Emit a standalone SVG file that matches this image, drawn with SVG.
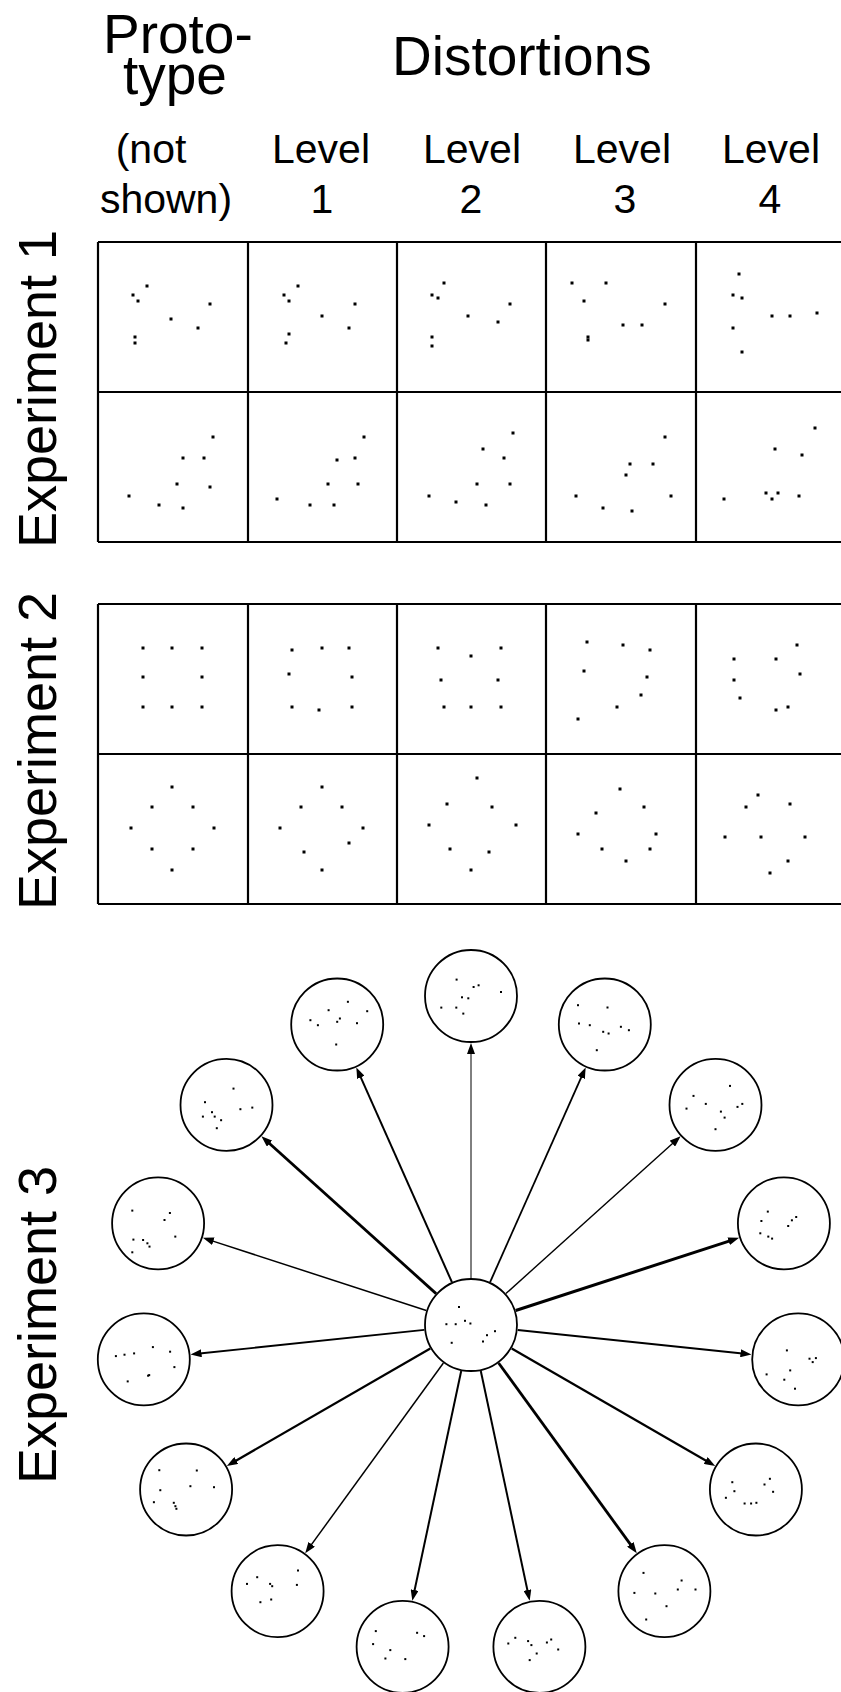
<svg xmlns="http://www.w3.org/2000/svg" xmlns:xlink="http://www.w3.org/1999/xlink" width="841" height="1692" viewBox="0 0 841 1692">
<style>
text{font-family:"Liberation Sans",Arial,sans-serif;fill:#000}
.h{font-size:55px}
.l{font-size:41px;text-anchor:middle}
.e{font-size:54px;text-anchor:middle}
.grid{fill:none;stroke:#000;stroke-width:2.2}
.node circle{fill:#fff;stroke:#000;stroke-width:1.8}
.conn line{stroke:#000;marker-end:url(#ah)}
</style>
<defs>
<rect id="s" x="-1.5" y="-1.5" width="3" height="3" fill="#000"/>
<rect id="t" x="-1" y="-1" width="2" height="2" fill="#000"/>
<marker id="ah" markerUnits="userSpaceOnUse" markerWidth="11" markerHeight="8" refX="2" refY="4" orient="auto"><path d="M0,0 L11,4 L0,8 z" fill="#000"/></marker>
</defs>
<rect width="841" height="1692" fill="#fff"/>
<g id="header">
<text class="h"><tspan x="103" y="53">Proto-</tspan><tspan x="123" y="94">type</tspan></text>
<text class="h" x="392" y="75">Distortions</text>
<text class="l" x="151" y="163">(not</text>
<text class="l" x="166" y="213">shown)</text>
<text class="l" x="321" y="163">Level</text>
<text class="l" x="322" y="213">1</text>
<text class="l" x="472" y="163">Level</text>
<text class="l" x="471" y="213">2</text>
<text class="l" x="622" y="163">Level</text>
<text class="l" x="625" y="213">3</text>
<text class="l" x="771" y="163">Level</text>
<text class="l" x="770" y="213">4</text>
<text class="e" transform="translate(56,389) rotate(-90)">Experiment 1</text>
<text class="e" transform="translate(56,751) rotate(-90)">Experiment 2</text>
<text class="e" transform="translate(56,1325) rotate(-90)">Experiment 3</text>
</g>
<g id="grid1" class="grid">
<path d="M98,242H846M98,392H846M98,542H846M98,242V542M248,242V542M397,242V542M546,242V542M696,242V542"/>
</g>
<g id="grid2" class="grid">
<path d="M98,604H846M98,754H846M98,904H846M98,604V904M248,604V904M397,604V904M546,604V904M696,604V904"/>
</g>
<g id="e1-r1-c1" transform="translate(98,242)"><use href="#s" x="49" y="44"/><use href="#s" x="35" y="53"/><use href="#s" x="40" y="59"/><use href="#s" x="112" y="62"/><use href="#s" x="73" y="77"/><use href="#s" x="100" y="86"/><use href="#s" x="37" y="95"/><use href="#s" x="37" y="101"/></g>
<g id="e1-r1-c2" transform="translate(248,242)"><use href="#s" x="50" y="44"/><use href="#s" x="36" y="53"/><use href="#s" x="41" y="59"/><use href="#s" x="107" y="62"/><use href="#s" x="74" y="74"/><use href="#s" x="101" y="86"/><use href="#s" x="41" y="92"/><use href="#s" x="38" y="101"/></g>
<g id="e1-r1-c3" transform="translate(397,242)"><use href="#s" x="47" y="41"/><use href="#s" x="35" y="53"/><use href="#s" x="41" y="56"/><use href="#s" x="113" y="62"/><use href="#s" x="71" y="74"/><use href="#s" x="101" y="80"/><use href="#s" x="35" y="95"/><use href="#s" x="35" y="104"/></g>
<g id="e1-r1-c4" transform="translate(546,242)"><use href="#s" x="26" y="41"/><use href="#s" x="60" y="41"/><use href="#s" x="38" y="59"/><use href="#s" x="119" y="62"/><use href="#s" x="77" y="83"/><use href="#s" x="96" y="83"/><use href="#s" x="42" y="95"/><use href="#s" x="42" y="98"/></g>
<g id="e1-r1-c5" transform="translate(696,242)"><use href="#s" x="43" y="32"/><use href="#s" x="37" y="53"/><use href="#s" x="46" y="56"/><use href="#s" x="76" y="74"/><use href="#s" x="94" y="74"/><use href="#s" x="121" y="71"/><use href="#s" x="37" y="86"/><use href="#s" x="46" y="110"/></g>
<g id="e1-r2-c1" transform="translate(98,392)"><use href="#s" x="115" y="45"/><use href="#s" x="85" y="66"/><use href="#s" x="106" y="66"/><use href="#s" x="79" y="92"/><use href="#s" x="112" y="95"/><use href="#s" x="31" y="104"/><use href="#s" x="61" y="113"/><use href="#s" x="85" y="116"/></g>
<g id="e1-r2-c2" transform="translate(248,392)"><use href="#s" x="116" y="45"/><use href="#s" x="89" y="68"/><use href="#s" x="107" y="66"/><use href="#s" x="80" y="92"/><use href="#s" x="110" y="92"/><use href="#s" x="29" y="107"/><use href="#s" x="62" y="113"/><use href="#s" x="86" y="113"/></g>
<g id="e1-r2-c3" transform="translate(397,392)"><use href="#s" x="116" y="41"/><use href="#s" x="86" y="57"/><use href="#s" x="107" y="66"/><use href="#s" x="80" y="92"/><use href="#s" x="113" y="92"/><use href="#s" x="32" y="104"/><use href="#s" x="59" y="110"/><use href="#s" x="89" y="113"/></g>
<g id="e1-r2-c4" transform="translate(546,392)"><use href="#s" x="119" y="45"/><use href="#s" x="84" y="72"/><use href="#s" x="107" y="72"/><use href="#s" x="80" y="83"/><use href="#s" x="30" y="104"/><use href="#s" x="125" y="104"/><use href="#s" x="57" y="116"/><use href="#s" x="86" y="119"/></g>
<g id="e1-r2-c5" transform="translate(696,392)"><use href="#s" x="119" y="36"/><use href="#s" x="79" y="57"/><use href="#s" x="106" y="63"/><use href="#s" x="70" y="101"/><use href="#s" x="82" y="101"/><use href="#s" x="76" y="107"/><use href="#s" x="103" y="104"/><use href="#s" x="28" y="107"/></g>
<g id="e2-r1-c1" transform="translate(98,604)"><use href="#s" x="45" y="44"/><use href="#s" x="74" y="44"/><use href="#s" x="104" y="44"/><use href="#s" x="45" y="73"/><use href="#s" x="104" y="73"/><use href="#s" x="45" y="103"/><use href="#s" x="74" y="103"/><use href="#s" x="104" y="103"/></g>
<g id="e2-r1-c2" transform="translate(248,604)"><use href="#s" x="44" y="46"/><use href="#s" x="74" y="44"/><use href="#s" x="101" y="44"/><use href="#s" x="41" y="70"/><use href="#s" x="104" y="73"/><use href="#s" x="44" y="103"/><use href="#s" x="71" y="106"/><use href="#s" x="104" y="103"/></g>
<g id="e2-r1-c3" transform="translate(397,604)"><use href="#s" x="41" y="44"/><use href="#s" x="104" y="44"/><use href="#s" x="74" y="52"/><use href="#s" x="44" y="76"/><use href="#s" x="101" y="76"/><use href="#s" x="47" y="103"/><use href="#s" x="74" y="103"/><use href="#s" x="104" y="103"/></g>
<g id="e2-r1-c4" transform="translate(546,604)"><use href="#s" x="41" y="38"/><use href="#s" x="77" y="41"/><use href="#s" x="104" y="46"/><use href="#s" x="38" y="67"/><use href="#s" x="101" y="73"/><use href="#s" x="95" y="91"/><use href="#s" x="71" y="103"/><use href="#s" x="32" y="115"/></g>
<g id="e2-r1-c5" transform="translate(696,604)"><use href="#s" x="101" y="41"/><use href="#s" x="38" y="55"/><use href="#s" x="80" y="55"/><use href="#s" x="104" y="70"/><use href="#s" x="38" y="76"/><use href="#s" x="44" y="94"/><use href="#s" x="80" y="106"/><use href="#s" x="92" y="103"/></g>
<g id="e2-r2-c1" transform="translate(98,754)"><use href="#s" x="74" y="33"/><use href="#s" x="54" y="53"/><use href="#s" x="95" y="53"/><use href="#s" x="33" y="74"/><use href="#s" x="116" y="74"/><use href="#s" x="54" y="95"/><use href="#s" x="95" y="95"/><use href="#s" x="74" y="116"/></g>
<g id="e2-r2-c2" transform="translate(248,754)"><use href="#s" x="74" y="33"/><use href="#s" x="53" y="53"/><use href="#s" x="94" y="53"/><use href="#s" x="32" y="74"/><use href="#s" x="115" y="74"/><use href="#s" x="101" y="89"/><use href="#s" x="56" y="98"/><use href="#s" x="74" y="116"/></g>
<g id="e2-r2-c3" transform="translate(397,754)"><use href="#s" x="80" y="24"/><use href="#s" x="50" y="50"/><use href="#s" x="95" y="53"/><use href="#s" x="32" y="71"/><use href="#s" x="119" y="71"/><use href="#s" x="53" y="95"/><use href="#s" x="92" y="98"/><use href="#s" x="74" y="116"/></g>
<g id="e2-r2-c4" transform="translate(546,754)"><use href="#s" x="74" y="35"/><use href="#s" x="50" y="59"/><use href="#s" x="98" y="53"/><use href="#s" x="32" y="80"/><use href="#s" x="110" y="80"/><use href="#s" x="56" y="95"/><use href="#s" x="104" y="95"/><use href="#s" x="80" y="107"/></g>
<g id="e2-r2-c5" transform="translate(696,754)"><use href="#s" x="62" y="41"/><use href="#s" x="50" y="53"/><use href="#s" x="94" y="50"/><use href="#s" x="29" y="83"/><use href="#s" x="65" y="83"/><use href="#s" x="109" y="83"/><use href="#s" x="92" y="107"/><use href="#s" x="74" y="119"/></g>
<g id="connectors" class="conn">
<line x1="471" y1="1278" x2="471" y2="1052" stroke-width="1"/>
<line x1="490.1" y1="1282.1" x2="582.0" y2="1075.6" stroke-width="1.8"/>
<line x1="505.9" y1="1293.6" x2="673.9" y2="1142.3" stroke-width="1.4"/>
<line x1="515.7" y1="1310.5" x2="730.6" y2="1240.6" stroke-width="3"/>
<line x1="517.7" y1="1329.9" x2="742.5" y2="1353.5" stroke-width="2"/>
<line x1="511.7" y1="1348.5" x2="707.4" y2="1461.5" stroke-width="2.2"/>
<line x1="498.6" y1="1363.0" x2="631.5" y2="1545.9" stroke-width="2.8"/>
<line x1="480.8" y1="1371.0" x2="527.8" y2="1592.0" stroke-width="2"/>
<line x1="461.2" y1="1371.0" x2="414.2" y2="1592.0" stroke-width="2"/>
<line x1="443.4" y1="1363.0" x2="310.5" y2="1545.9" stroke-width="1.5"/>
<line x1="430.3" y1="1348.5" x2="234.6" y2="1461.5" stroke-width="2.2"/>
<line x1="424.3" y1="1329.9" x2="199.5" y2="1353.5" stroke-width="1.8"/>
<line x1="426.3" y1="1310.5" x2="211.4" y2="1240.6" stroke-width="1.5"/>
<line x1="436.1" y1="1293.6" x2="268.1" y2="1142.3" stroke-width="2.8"/>
<line x1="451.9" y1="1282.1" x2="360.0" y2="1075.6" stroke-width="2"/>
</g>
<g id="p-center" class="node" transform="translate(471,1325)"><circle r="46"/><use href="#t" x="-12" y="-18"/><use href="#t" x="-24.6" y="-0.8"/><use href="#t" x="-15.3" y="-0.8"/><use href="#t" x="-6" y="-4.2"/><use href="#t" x="-0.6" y="-1.5"/><use href="#t" x="-19.3" y="17.8"/><use href="#t" x="16" y="10.2"/><use href="#t" x="24" y="6.2"/><use href="#t" x="12" y="16.5"/></g>
<g id="d0" class="node" transform="translate(471,996)"><circle r="46"/><use href="#t" x="-14.4" y="-16.4"/><use href="#t" x="2.6" y="-9"/><use href="#t" x="7.6" y="-10.7"/><use href="#t" x="30" y="-4"/><use href="#t" x="-9" y="1.3"/><use href="#t" x="-2.7" y="2.3"/><use href="#t" x="-29.7" y="11.6"/><use href="#t" x="-14.7" y="11.6"/><use href="#t" x="-7.7" y="17.6"/></g>
<g id="d1" class="node" transform="translate(604.8,1024.5)"><circle r="46"/><use href="#t" x="-26.8" y="-19.3"/><use href="#t" x="2.7" y="-17"/><use href="#t" x="-25.8" y="-1"/><use href="#t" x="-15" y="0.7"/><use href="#t" x="-1.6" y="7.3"/><use href="#t" x="3.8" y="9"/><use href="#t" x="16.1" y="2.3"/><use href="#t" x="24.1" y="5.7"/><use href="#t" x="-8" y="25.7"/></g>
<g id="d2" class="node" transform="translate(715.5,1104.9)"><circle r="46"/><use href="#t" x="14.5" y="-19"/><use href="#t" x="-22" y="-9"/><use href="#t" x="-9.7" y="-1"/><use href="#t" x="-29" y="3.7"/><use href="#t" x="5.4" y="6.7"/><use href="#t" x="26.8" y="-1"/><use href="#t" x="22" y="2"/><use href="#t" x="9.1" y="12.7"/><use href="#t" x="0" y="24.3"/></g>
<g id="d3" class="node" transform="translate(783.9,1223.3)"><circle r="46"/><use href="#t" x="-16.1" y="-11.7"/><use href="#t" x="-22.5" y="-2.3"/><use href="#t" x="12.3" y="-6.3"/><use href="#t" x="8" y="-3"/><use href="#t" x="4.3" y="2.7"/><use href="#t" x="-23.6" y="10"/><use href="#t" x="-15.6" y="13.3"/><use href="#t" x="-11.8" y="15.3"/></g>
<g id="d4" class="node" transform="translate(798.2,1359.4)"><circle r="46"/><use href="#t" x="-11.3" y="-9"/><use href="#t" x="11.3" y="-0.7"/><use href="#t" x="17.7" y="-1.3"/><use href="#t" x="14.5" y="2.7"/><use href="#t" x="-8" y="11"/><use href="#t" x="-31.6" y="15"/><use href="#t" x="-13.9" y="20.3"/><use href="#t" x="-3.2" y="29.3"/></g>
<g id="d5" class="node" transform="translate(755.9,1489.5)"><circle r="46"/><use href="#t" x="-23.6" y="-7.3"/><use href="#t" x="14" y="-10.7"/><use href="#t" x="8.6" y="-5"/><use href="#t" x="-21.5" y="1.7"/><use href="#t" x="17.2" y="2.3"/><use href="#t" x="-30" y="8.3"/><use href="#t" x="-11.3" y="14"/><use href="#t" x="-4.8" y="14"/><use href="#t" x="0.5" y="13.3"/></g>
<g id="d6" class="node" transform="translate(664.4,1591.2)"><circle r="46"/><use href="#t" x="-20.9" y="-18.3"/><use href="#t" x="17.2" y="-10.7"/><use href="#t" x="-30" y="1.7"/><use href="#t" x="-9.1" y="2.3"/><use href="#t" x="13.4" y="-1.7"/><use href="#t" x="31.1" y="-1.7"/><use href="#t" x="2.1" y="15"/><use href="#t" x="-18.2" y="28.3"/></g>
<g id="d7" class="node" transform="translate(539.4,1646.8)"><circle r="46"/><use href="#t" x="-24.1" y="-9"/><use href="#t" x="-11.3" y="-5.7"/><use href="#t" x="-8" y="-1.7"/><use href="#t" x="7.5" y="-4.3"/><use href="#t" x="11.8" y="-7.3"/><use href="#t" x="18.8" y="2.7"/><use href="#t" x="-2.7" y="6.7"/><use href="#t" x="-9.7" y="13.3"/><use href="#t" x="-31.1" y="-3.3"/></g>
<g id="d8" class="node" transform="translate(402.6,1646.8)"><circle r="46"/><use href="#t" x="-26.8" y="-15.7"/><use href="#t" x="14.5" y="-14"/><use href="#t" x="21.5" y="-10.7"/><use href="#t" x="-29.5" y="-2.7"/><use href="#t" x="-12.3" y="3.3"/><use href="#t" x="-17.2" y="11.7"/><use href="#t" x="2.7" y="12.3"/></g>
<g id="d9" class="node" transform="translate(277.6,1591.2)"><circle r="46"/><use href="#t" x="20.4" y="-20.7"/><use href="#t" x="-20.4" y="-14"/><use href="#t" x="-30.6" y="-7.3"/><use href="#t" x="-7.5" y="-7.3"/><use href="#t" x="-5.4" y="-5"/><use href="#t" x="19.3" y="-6.3"/><use href="#t" x="-6.4" y="8.3"/><use href="#t" x="-17.2" y="11"/></g>
<g id="d10" class="node" transform="translate(186.1,1489.5)"><circle r="46"/><use href="#t" x="-26.8" y="-19.3"/><use href="#t" x="10.7" y="-19"/><use href="#t" x="4.3" y="-3.3"/><use href="#t" x="27.9" y="-2.3"/><use href="#t" x="-25.8" y="0.7"/><use href="#t" x="-32.2" y="12.7"/><use href="#t" x="-12.3" y="13.3"/><use href="#t" x="-10.7" y="16.7"/><use href="#t" x="-9.7" y="19.3"/></g>
<g id="d11" class="node" transform="translate(143.8,1359.4)"><circle r="46"/><use href="#t" x="9.1" y="-12.3"/><use href="#t" x="-9.7" y="-6"/><use href="#t" x="26.3" y="-7.7"/><use href="#t" x="-27.9" y="-3.3"/><use href="#t" x="-19.3" y="-4.7"/><use href="#t" x="30.6" y="7.7"/><use href="#t" x="5.4" y="15.7"/><use href="#t" x="4.3" y="16.3"/><use href="#t" x="-16.1" y="22"/></g>
<g id="d12" class="node" transform="translate(158.1,1223.3)"><circle r="46"/><use href="#t" x="-25.8" y="-12.7"/><use href="#t" x="11.8" y="-10.3"/><use href="#t" x="6.4" y="-3.3"/><use href="#t" x="17.2" y="13.3"/><use href="#t" x="-24.7" y="16.3"/><use href="#t" x="-15" y="16.7"/><use href="#t" x="-10.7" y="20"/><use href="#t" x="-8.6" y="23.3"/><use href="#t" x="-25.8" y="29"/></g>
<g id="d13" class="node" transform="translate(226.5,1104.9)"><circle r="46"/><use href="#t" x="7" y="-16.3"/><use href="#t" x="-21.5" y="-2.7"/><use href="#t" x="13.9" y="4.3"/><use href="#t" x="25.8" y="2.7"/><use href="#t" x="-14.5" y="7.3"/><use href="#t" x="-23.6" y="11.7"/><use href="#t" x="-11.8" y="11.7"/><use href="#t" x="-5.4" y="15.3"/><use href="#t" x="-9.7" y="23.3"/></g>
<g id="d14" class="node" transform="translate(337.2,1024.5)"><circle r="46"/><use href="#t" x="10.7" y="-22.7"/><use href="#t" x="-8.6" y="-14.3"/><use href="#t" x="30" y="-13.3"/><use href="#t" x="-26.8" y="-4.3"/><use href="#t" x="-19.3" y="0.7"/><use href="#t" x="2.7" y="-6"/><use href="#t" x="0" y="-2.7"/><use href="#t" x="19.8" y="-1.3"/><use href="#t" x="-1" y="20"/></g>
</svg>
